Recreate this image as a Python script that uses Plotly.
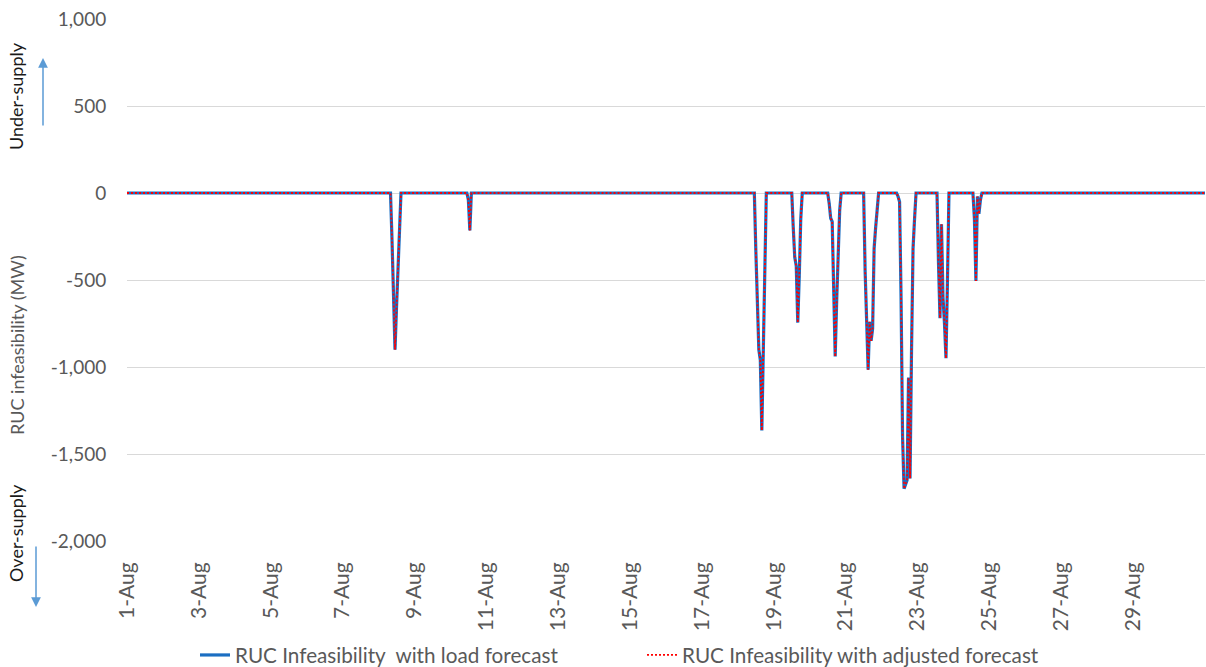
import plotly.graph_objects as go
import pandas as pd

# ---------------- data ----------------
# hourly timestamps for August
hours = pd.date_range("2016-08-01 00:00", "2016-08-31 00:00", freq="h")

# non-zero infeasibility events (start hour, hourly MW values); all other hours are 0
event_starts = [
    "2016-08-08 09:00",
    "2016-08-10 12:00",
    "2016-08-18 12:00",
    "2016-08-19 13:00",
    "2016-08-20 13:00",
    "2016-08-21 13:00",
    "2016-08-22 11:00",
    "2016-08-23 14:00",
    "2016-08-24 14:00",
]
event_values = [
    [-270, -590, -900, -660, -420, -190],
    [-40, -215],
    [-330, -620, -900, -960, -1365, -900, -450],
    [-200, -370, -420, -745, -480, -150],
    [-60, -145, -165, -550, -940, -620, -300, -100],
    [-450, -800, -1015, -740, -850, -780, -320, -200, -90],
    [-20, -50, -600, -1400, -1700, -1680, -1650, -1060, -1640, -900, -320, -150],
    [-400, -720, -180, -600, -750, -950, -500],
    [-150, -505, -20, -120, -40],
]

series_names = [
    "RUC Infeasibility\u00a0 with load forecast",
    "RUC Infeasibility with adjusted forecast",
]

y_ticks = [-2000, -1500, -1000, -500, 0, 500, 1000]
y_tick_labels = ["-2,000", "-1,500", "-1,000", "-500", "0", "500", "1,000"]

# build series
load_forecast = pd.Series(0.0, index=hours)
for start, vals in zip(event_starts, event_values):
    idx = pd.date_range(start, periods=len(vals), freq="h")
    load_forecast.loc[idx] = vals
adjusted_forecast = load_forecast.copy()

# ---------------- figure ----------------
FONT = "Lato"
GRAY = "#595959"

fig = go.Figure()
fig.add_trace(go.Scatter(
    x=hours, y=load_forecast.values, mode="lines", name=series_names[0],
    line=dict(color="#1B6EC2", width=3.2),
))
fig.add_trace(go.Scatter(
    x=hours, y=adjusted_forecast.values, mode="lines", name=series_names[1],
    line=dict(color="#FF0000", width=1.8, dash="2px,2px"),
))

W, H = 1206, 667
L, R, T, B = 127, 1, 19, 126
pw, ph = W - L - R, H - T - B

def px(xp):
    return (xp - L) / pw

def py(yp):
    return (H - B - yp) / ph

fig.update_layout(
    width=W, height=H,
    margin=dict(l=L, r=R, t=T, b=B),
    plot_bgcolor="white", paper_bgcolor="white",
    font=dict(family=FONT, color=GRAY, size=17),
    showlegend=True,
    legend=dict(
        orientation="h", x=px(195), xanchor="left",
        yref="container", y=1 - 655 / H, yanchor="middle",
        entrywidth=402, entrywidthmode="pixels",
        font=dict(size=20.7, color=GRAY), bgcolor="rgba(0,0,0,0)",
    ),
    xaxis=dict(
        type="date",
        range=["2016-08-01 00:00", "2016-08-31 00:00"],
        tick0="2016-08-01", dtick=2 * 24 * 3600 * 1000,
        tickformat="%-d-%b", tickangle=-90,
        showgrid=False, showline=False, zeroline=False,
        ticks="outside", ticklen=12, tickcolor="rgba(0,0,0,0)",
        tickfont=dict(size=21, color=GRAY, family=FONT),
    ),
    yaxis=dict(
        range=[-2000, 1000], tickvals=y_ticks, ticktext=y_tick_labels,
        showgrid=True, gridcolor="#D9D9D9", gridwidth=1,
        zeroline=False, showline=False,
        ticks="outside", ticklen=16, tickcolor="rgba(0,0,0,0)",
        tickfont=dict(size=19, color=GRAY, family=FONT),
    ),
)

ann = [
    dict(text="RUC infeasibility (MW)", x=px(17), y=py(345), textangle=-90,
         font=dict(size=18, color=GRAY)),
    dict(text="Under-supply", x=px(16), y=py(96), textangle=-90,
         font=dict(size=18, color="#1a1a1a")),
    dict(text="Over-supply", x=px(16), y=py(533), textangle=-90,
         font=dict(size=18, color="#1a1a1a")),
]
for a in ann:
    a.update(xref="paper", yref="paper", xanchor="center", yanchor="middle",
             showarrow=False)
    fig.add_annotation(**a)

# arrows
fig.add_annotation(x=px(43), y=py(58), xref="paper", yref="paper", text="",
                   showarrow=True, ax=0, ay=69, arrowhead=2, arrowsize=1.3,
                   arrowwidth=1.5, arrowcolor="#5B9BD5")
fig.add_annotation(x=px(36), y=py(607), xref="paper", yref="paper", text="",
                   showarrow=True, ax=0, ay=-62, arrowhead=2, arrowsize=1.3,
                   arrowwidth=1.5, arrowcolor="#5B9BD5")

fig.write_html("out.html", config={"displayModeBar": False},
               post_script="document.body.style.margin='0';document.body.style.overflow='hidden';")
